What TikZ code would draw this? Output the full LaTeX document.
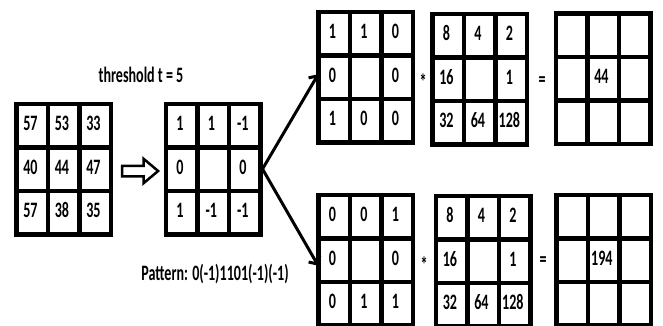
\documentclass[tikz,border=0pt]{standalone}
\usepackage{fontspec}
\setmainfont{Carlito}[FakeStretch=0.64]
\usetikzlibrary{arrows.meta, matrix, shapes.arrows}

\begin{document}
\begin{tikzpicture}[x=1pt, y=-1pt,
  every node/.style={font=\fontsize{22}{24}\selectfont\bfseries},
  cellbox/.style={rectangle, draw, line width=4.5pt, minimum width=31.5pt, minimum height=43.5pt, inner sep=0pt, anchor=center, text height=10pt, text depth=0pt, align=center},
  grid/.style={matrix of nodes, nodes in empty cells, inner sep=0pt, outer sep=0pt, column sep=-4.5pt, row sep=-4.5pt, nodes={cellbox}},
  conn/.style={line width=3pt, -{Straight Barb[length=6pt, width=13pt]}},
  sign/.style={inner sep=0pt, font=\fontsize{22}{24}\selectfont\bfseries},
]
\useasboundingbox (0,0) rectangle (663,325);
\clip (0,0) rectangle (663,325);

% Input block and thresholded code
\matrix[grid] (g1) at (63.5,169) {
57 & 53 & 33 \\
40 & 44 & 47 \\
57 & 38 & 35 \\
};
\node[single arrow, draw, line width=2.5pt, minimum height=36pt, inner sep=4pt, single arrow head extend=7pt, single arrow tip angle=80] (hollow) at (137,171) {};
\matrix[grid] (g2) at (213,169) {
1 & 1 & -1 \\
0 &   & 0 \\
1 & -1 & -1 \\
};
\node (thr) at (141,75) {threshold t = 5};
\node (pat) at (215,274) {Pattern: 0(-1)1101(-1)(-1)};

% Upper pattern
\matrix[grid] (ga) at (365.5,77) {
1 & 1 & 0 \\
0 &   & 0 \\
1 & 0 & 0 \\
};
\node[sign] (mula) at (423,82) {*};
\matrix[grid] (gb) at (479.5,79) {
8  & 4  & 2 \\
16 &    & 1 \\
32 & 64 & 128 \\
};
\node[sign] (eqa) at (542,82) {=};
\matrix[grid] (gc) at (603,78.5) {
 &    & \\
 & 44 & \\
 &    & \\
};

% Lower pattern
\matrix[grid] (gd) at (365.5,260) {
0 & 0 & 1 \\
0 &   & 0 \\
0 & 1 & 1 \\
};
\node[sign] (mulb) at (424,265) {*};
\matrix[grid] (ge) at (483,261) {
8  & 4  & 2 \\
16 &    & 1 \\
32 & 64 & 128 \\
};
\node[sign] (eqb) at (543,262) {=};
\matrix[grid] (gf) at (603.5,260) {
 &     & \\
 & 194 & \\
 &     & \\
};

\draw[conn] (g2.east) -- (ga-2-1.170);
\draw[conn] (g2.east) -- (gd-2-1.200);

\end{tikzpicture}
\end{document}
